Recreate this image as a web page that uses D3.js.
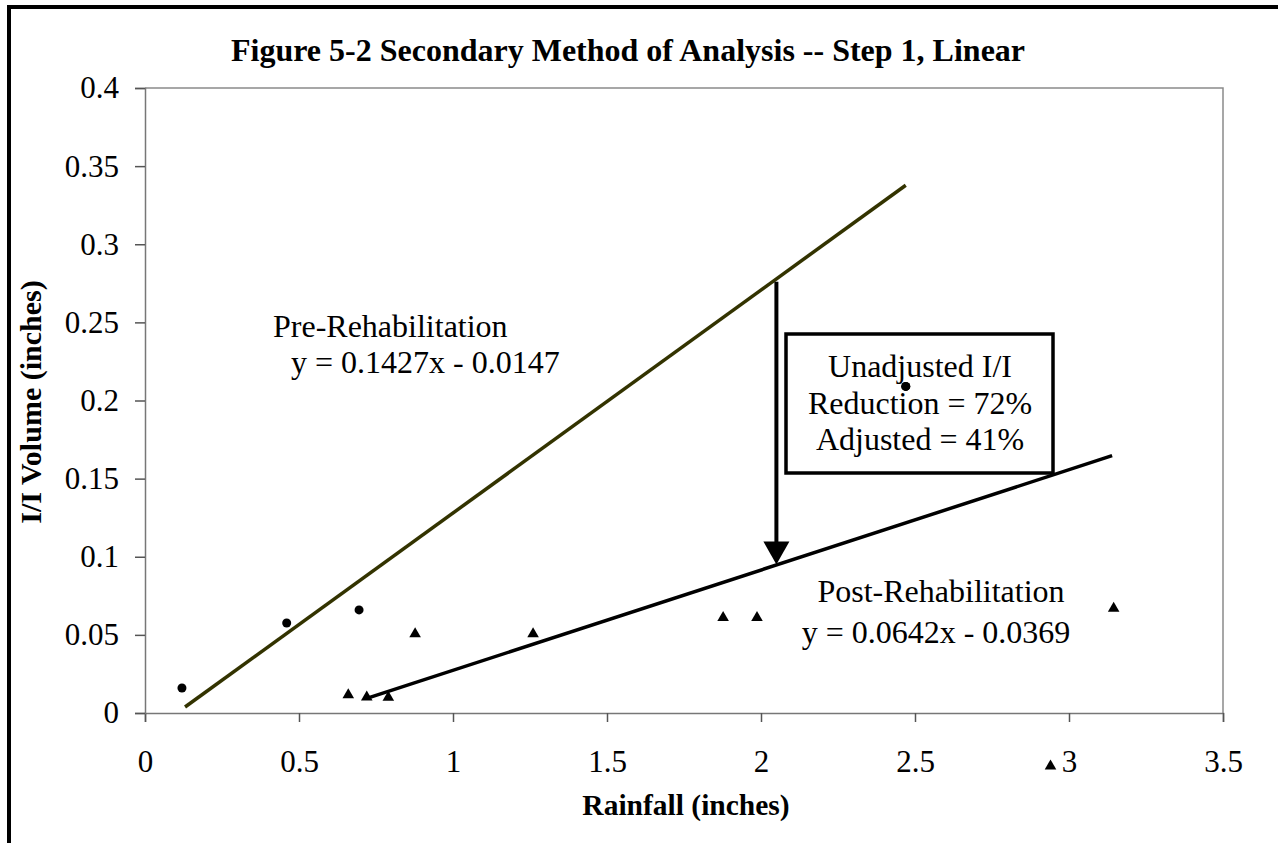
<!DOCTYPE html>
<html><head><meta charset="utf-8">
<script src="https://cdn.jsdelivr.net/npm/d3@7"></script>
<style>body{margin:0;background:#fff}svg{display:block}</style>
</head><body>
<script>
// ---- data ----
const preX = [0.12, 0.46, 0.695, 2.47];
const preY = [0.016, 0.0576, 0.066, 0.209];
const postX = [0.66, 0.72, 0.79, 0.877, 1.26, 1.877, 1.987, 2.94, 3.145];
const postY = [0.0115, 0.0102, 0.010, 0.0506, 0.0506, 0.061, 0.061, -0.034, 0.067];
const preFit = {slope: 0.1427, intercept: -0.0147, x0: 0.13, x1: 2.47};
const postFit = {slope: 0.0642, intercept: -0.0369, x0: 0.72, x1: 3.14};
const xTicks = [0, 0.5, 1, 1.5, 2, 2.5, 3, 3.5];
const xTickLabels = ["0", "0.5", "1", "1.5", "2", "2.5", "3", "3.5"];
const yTicks = [0, 0.05, 0.1, 0.15, 0.2, 0.25, 0.3, 0.35, 0.4];
const yTickLabels = ["0", "0.05", "0.1", "0.15", "0.2", "0.25", "0.3", "0.35", "0.4"];
const title = "Figure 5-2 Secondary Method of Analysis -- Step 1, Linear";
const xTitle = "Rainfall (inches)";
const yTitle = "I/I Volume (inches)";
const preLabel = ["Pre-Rehabilitation", "y = 0.1427x - 0.0147"];
const postLabel = ["Post-Rehabilitation", "y = 0.0642x - 0.0369"];
const boxLines = ["Unadjusted I/I", "Reduction = 72%", "Adjusted = 41%"];
const arrowX = 2.05, arrowY0 = 0.276, arrowY1 = 0.095;

const W = 1278, H = 843;
const FONT = "'Liberation Serif','Times New Roman',serif";
const svg = d3.select("body").append("svg").attr("width", W).attr("height", H);

// outer frame (top & left visible)
svg.append("rect").attr("x", 9).attr("y", 7).attr("width", W + 20).attr("height", H + 20)
  .attr("fill", "none").attr("stroke", "#000").attr("stroke-width", 4);

const x = d3.scaleLinear().domain([0, 3.5]).range([145, 1223]);
const y = d3.scaleLinear().domain([0, 0.4]).range([713, 88]);

// plot-area border (top/right)
svg.append("path").attr("d", `M${x(0)},${y(0.4)}H${x(3.5)}V${y(0)}`)
  .attr("fill", "none").attr("stroke", "#8a8a8a").attr("stroke-width", 1.5);

// axes
const xAxis = svg.append("g").attr("transform", `translate(0,${y(0)})`)
  .call(d3.axisBottom(x).tickValues(xTicks).tickFormat((d, i) => xTickLabels[i]).tickSize(9).tickPadding(28));
const yAxis = svg.append("g").attr("transform", `translate(${x(0)},0)`)
  .call(d3.axisLeft(y).tickValues(yTicks).tickFormat((d, i) => yTickLabels[i]).tickSize(10).tickPadding(16));
[xAxis, yAxis].forEach(g => {
  g.select(".domain").attr("stroke", "#777").attr("stroke-width", 1.5);
  g.selectAll(".tick line").attr("stroke", "#555").attr("stroke-width", 1.5);
  g.selectAll(".tick text").attr("font-family", FONT).attr("font-size", 31).attr("fill", "#000");
});

// trend lines
const line = d3.line().x(d => x(d[0])).y(d => y(d[1]));
function fitPts(f) { return [[f.x0, f.slope * f.x0 + f.intercept], [f.x1, f.slope * f.x1 + f.intercept]]; }
svg.append("path").attr("d", line(fitPts(preFit))).attr("stroke", "#333300").attr("stroke-width", 3.5).attr("fill", "none");
svg.append("path").attr("d", line(fitPts(postFit))).attr("stroke", "#000").attr("stroke-width", 3.5).attr("fill", "none");

// markers
svg.append("g").selectAll("circle").data(preX.map((v, i) => [v, preY[i]])).join("circle")
  .attr("cx", d => x(d[0])).attr("cy", d => y(d[1])).attr("r", 4.5).attr("fill", "#000");
const tri = d3.symbol().type(d3.symbolTriangle).size(58);
svg.append("g").selectAll("path").data(postX.map((v, i) => [v, postY[i]])).join("path")
  .attr("d", tri).attr("transform", d => `translate(${x(d[0])},${y(d[1])})`).attr("fill", "#000");

// arrow
const ax = x(arrowX);
svg.append("line").attr("x1", ax).attr("x2", ax).attr("y1", y(arrowY0)).attr("y2", y(arrowY1) - 20)
  .attr("stroke", "#000").attr("stroke-width", 4);
svg.append("path").attr("d", `M${ax - 13},${y(arrowY1) - 23}L${ax + 13},${y(arrowY1) - 23}L${ax},${y(arrowY1)}Z`).attr("fill", "#000");

// text box
svg.append("rect").attr("x", 786).attr("y", 334).attr("width", 267).attr("height", 139)
  .attr("fill", "none").attr("stroke", "#000").attr("stroke-width", 3.5);
svg.append("g").selectAll("text").data(boxLines).join("text")
  .attr("x", 920).attr("y", (d, i) => 377 + i * 36.5).attr("text-anchor", "middle")
  .attr("font-family", FONT).attr("font-size", 32).text(d => d);

// point sitting inside the box drawn on top
svg.append("circle").attr("cx", x(preX[3])).attr("cy", y(preY[3])).attr("r", 4.5).attr("fill", "#000");

// labels
svg.append("text").attr("x", 273).attr("y", 337).attr("font-family", FONT).attr("font-size", 32).text(preLabel[0]);
svg.append("text").attr("x", 291).attr("y", 373).attr("font-family", FONT).attr("font-size", 32).text(preLabel[1]);
svg.append("text").attr("x", 941).attr("y", 602).attr("text-anchor", "middle").attr("font-family", FONT).attr("font-size", 32).text(postLabel[0]);
svg.append("text").attr("x", 936).attr("y", 643).attr("text-anchor", "middle").attr("font-family", FONT).attr("font-size", 32).text(postLabel[1]);

// titles
svg.append("text").attr("x", 628).attr("y", 61).attr("text-anchor", "middle").attr("font-family", FONT)
  .attr("font-weight", "bold").attr("font-size", 32).text(title);
svg.append("text").attr("x", 686).attr("y", 815).attr("text-anchor", "middle").attr("font-family", FONT)
  .attr("font-weight", "bold").attr("font-size", 29.5).text(xTitle);
svg.append("text").attr("transform", "translate(41,402) rotate(-90)").attr("text-anchor", "middle").attr("font-family", FONT)
  .attr("font-weight", "bold").attr("font-size", 30).text(yTitle);
</script>
</body></html>
